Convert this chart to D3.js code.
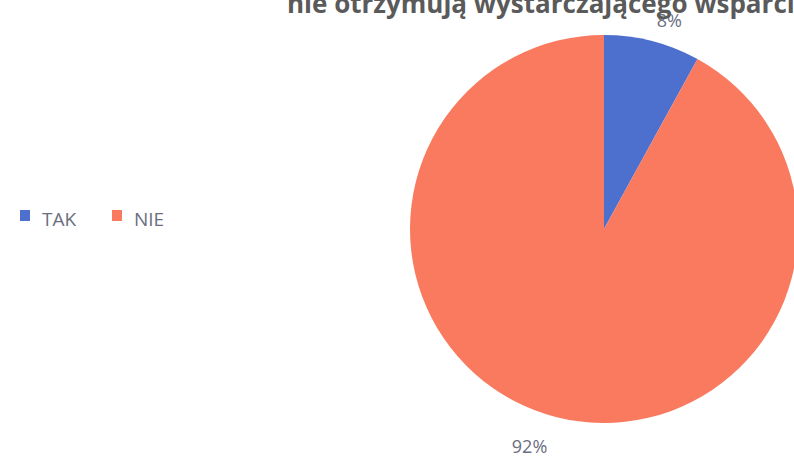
<!DOCTYPE html>
<html><head><meta charset="utf-8">
<script src="https://cdn.jsdelivr.net/npm/d3@7"></script>
<style>body{margin:0;background:#fff;}svg{display:block;}</style>
</head><body>
<script>
const categories = ["TAK", "NIE"];
const values = [8, 92];
const colors = ["#4D70CF", "#F97A5F"];
const title = "nie otrzymują wystarczającego wsparcia";

const W = 794, H = 457;
const svg = d3.select("body").append("svg").attr("width", W).attr("height", H);

const cx = 604, cy = 229, R = 194;
const pie = d3.pie().sort(null).value(d => d.v);
const data = pie(categories.map((c, i) => ({c, v: values[i]})));
const arc = d3.arc().innerRadius(0).outerRadius(R);
const color = d3.scaleOrdinal().domain(categories).range(colors);

const g = svg.append("g").attr("transform", `translate(${cx},${cy})`);
g.selectAll("path").data(data).join("path")
  .attr("d", arc).attr("fill", d => color(d.data.c));

const lr = R + 26;
g.selectAll("text.lbl").data(data).join("text").attr("class", "lbl")
  .attr("x", d => { const a = (d.startAngle + d.endAngle) / 2; return lr * Math.sin(a) - 2; })
  .attr("y", d => { const a = (d.startAngle + d.endAngle) / 2; return -lr * Math.cos(a) + 6; })
  .attr("text-anchor", d => Math.sin((d.startAngle + d.endAngle) / 2) >= 0 ? "start" : "end")
  .attr("dominant-baseline", "middle")
  .attr("font-family", "Open Sans, sans-serif").attr("font-size", 18)
  .attr("fill", "#6A6E80")
  .text(d => d.data.v + "%");

svg.append("text").attr("x", 287).attr("y", 13)
  .attr("font-family", "Open Sans, sans-serif").attr("font-weight", "bold")
  .attr("font-size", 26).attr("fill", "#5A5A5A").text(title);

const leg = svg.append("g").attr("transform", "translate(20,210)");
const items = leg.selectAll("g").data(categories).join("g")
  .attr("transform", (d, i) => `translate(${i * 92},0)`);
items.append("rect").attr("width", 10).attr("height", 11).attr("fill", d => color(d));
items.append("text").attr("x", 22).attr("y", 16)
  .attr("font-family", "Open Sans, sans-serif").attr("font-size", 19)
  .attr("fill", "#6A6E80").text(d => d);
</script>
</body></html>
